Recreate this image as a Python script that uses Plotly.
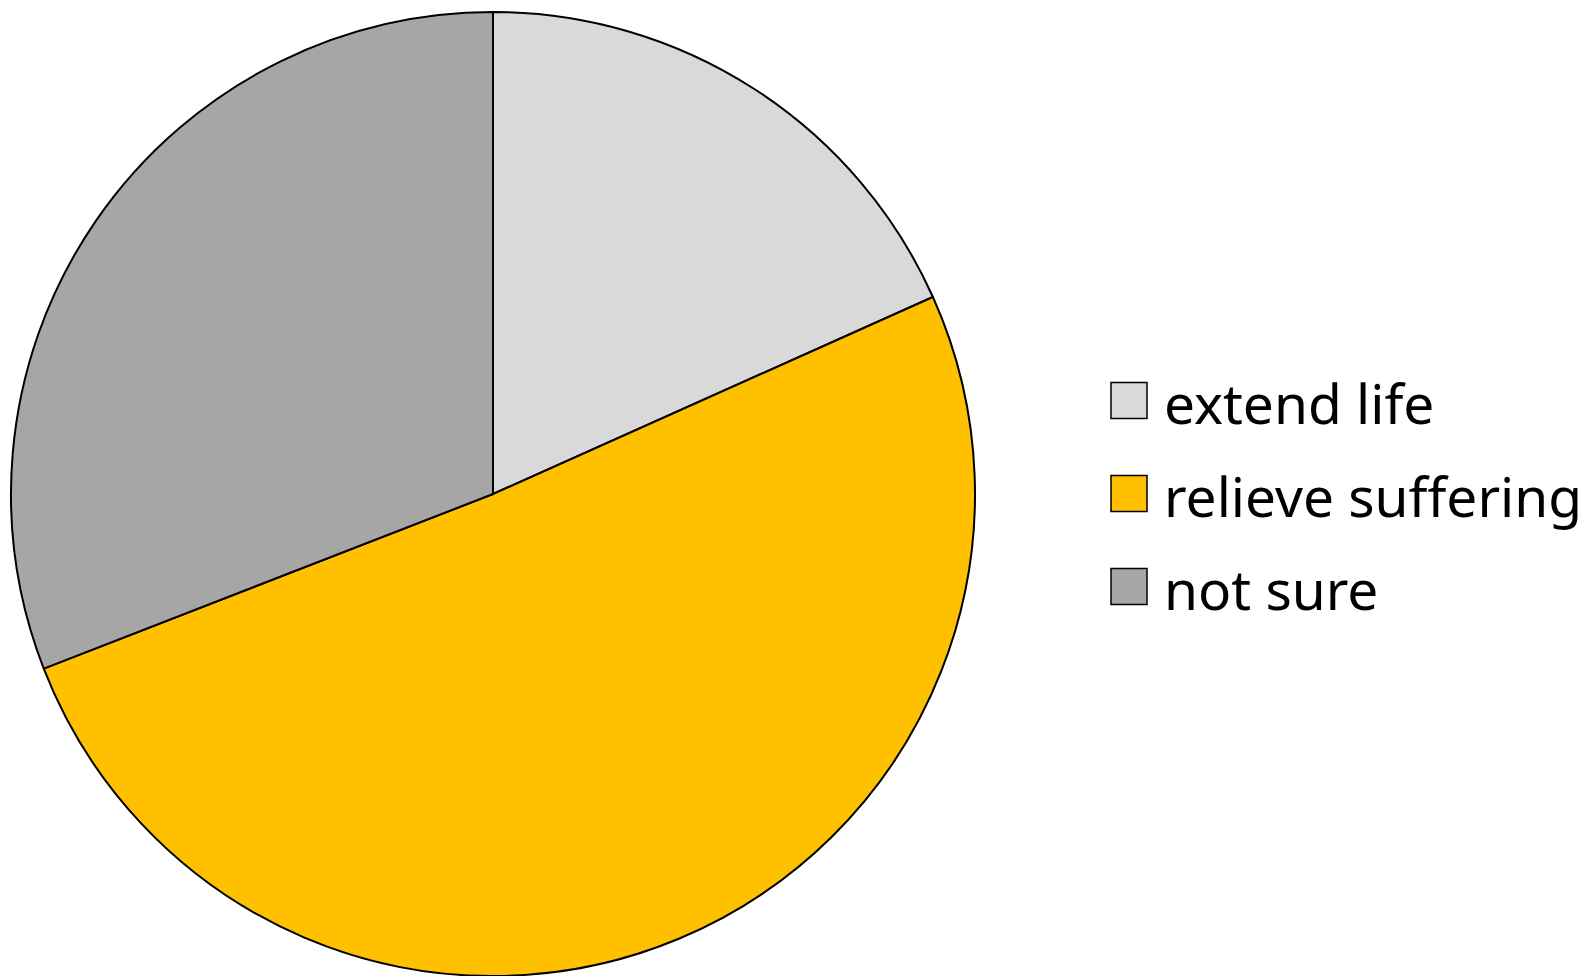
import plotly.graph_objects as go

categories = ["extend life", "relieve suffering", "not sure"]
values = [18.3, 50.8, 30.9]
colors = ["#D9D9D9", "#FFC000", "#A6A6A6"]

# page has an 8px body margin; work in page coords then subtract it
OFF = 8
W, H = 1591 - OFF, 976 - OFF
cx, cy, r = 493 - OFF, 494 - OFF, 482

def clamp(v):
    return min(1.0, max(0.0, v))

fig = go.Figure()
fig.add_trace(go.Pie(
    labels=categories, values=values, sort=False, direction="clockwise", rotation=0,
    marker=dict(colors=colors, line=dict(color="black", width=2)),
    textinfo="none", hoverinfo="label+percent", showlegend=False,
    domain=dict(x=[clamp((cx - r) / W), clamp((cx + r) / W)],
                y=[clamp((H - cy - r) / H), clamp((H - cy + r) / H)]),
))

# legend drawn as shapes + text
sq_x0, sq = 1111 - OFF, 36
row_y = [400.5 - OFF, 493.5 - OFF, 586.5 - OFF]
shapes, annotations = [], []
for cat, col, yc in zip(categories, colors, row_y):
    shapes.append(dict(type="rect", xref="paper", yref="paper",
                       x0=sq_x0 / W, x1=(sq_x0 + sq) / W,
                       y0=(H - yc - sq / 2) / H, y1=(H - yc + sq / 2) / H,
                       fillcolor=col, line=dict(color="black", width=1.5)))
    annotations.append(dict(xref="paper", yref="paper", x=(1162 - OFF) / W, y=(H - yc - 2) / H,
                            text=cat, showarrow=False, xanchor="left", yanchor="middle",
                            font=dict(family="Noto Sans", size=55, color="black")))

fig.update_layout(width=W, height=H, margin=dict(l=0, r=0, t=0, b=0),
                  paper_bgcolor="white", plot_bgcolor="white",
                  shapes=shapes, annotations=annotations, showlegend=False)
fig.write_html("out.html")
